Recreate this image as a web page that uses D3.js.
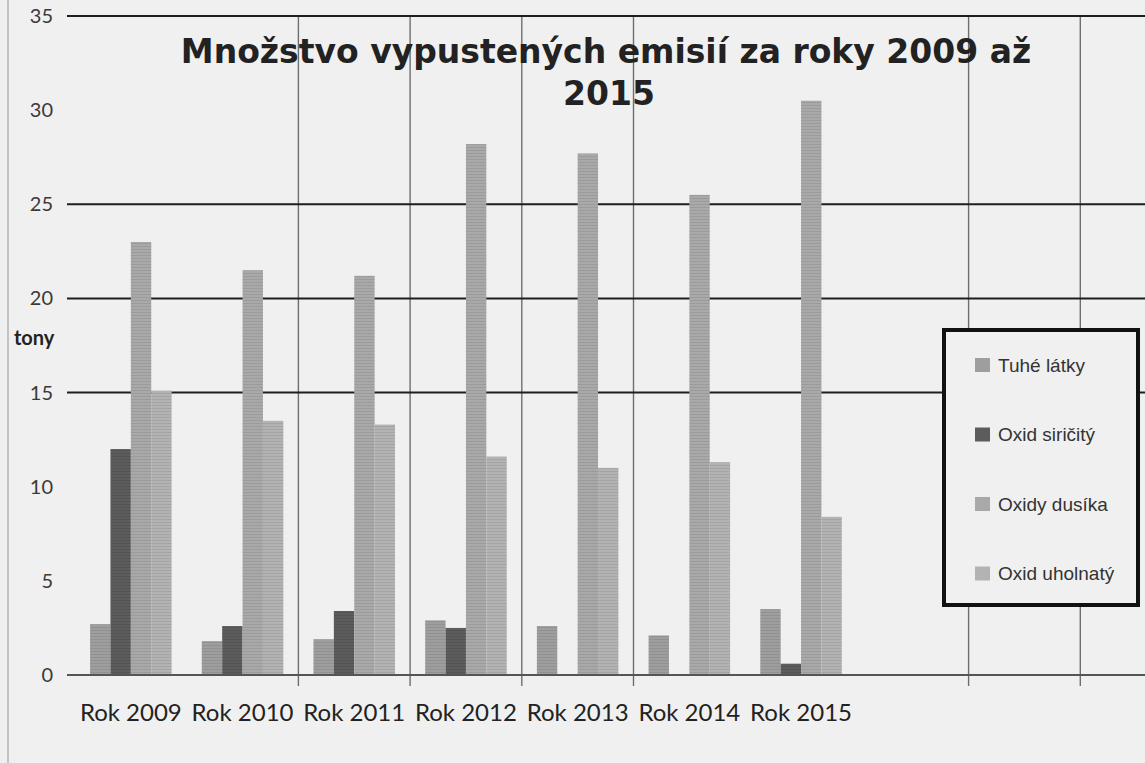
<!DOCTYPE html>
<html>
<head>
<meta charset="utf-8">
<script src="https://cdn.jsdelivr.net/npm/d3@7"></script>
<style>
  html, body { margin: 0; padding: 0; background: #f0f0f0; }
  svg { display: block; }
</style>
</head>
<body>
<div id="chart"></div>
<script>
// categories and series
const categories = ['Rok 2009', 'Rok 2010', 'Rok 2011', 'Rok 2012', 'Rok 2013', 'Rok 2014', 'Rok 2015'];
const seriesNames = ['Tuhé látky', 'Oxid siričitý', 'Oxidy dusíka', 'Oxid uholnatý'];

// values in tons
const tuheLatky = [2.7, 1.8, 1.9, 2.9, 2.6, 2.1, 3.5];
const oxidSiricity = [12.0, 2.6, 3.4, 2.5, 0, 0, 0.6];
const oxidyDusika = [23.0, 21.5, 21.2, 28.2, 27.7, 25.5, 30.5];
const oxidUholnaty = [15.1, 13.5, 13.3, 11.6, 11.0, 11.3, 8.4];

const yTicks = [0, 5, 10, 15, 20, 25, 30, 35];
const gridValues = [15, 20, 25, 35];   // only these lines survive in the scan
const vGridAt = [2, 3, 4, 5, 8, 9];    // category boundaries that carry a line

const seriesValues = [tuheLatky, oxidSiricity, oxidyDusika, oxidUholnaty];
const colors = ['#9e9e9e', '#5c5c5c', '#a9a9a9', '#b3b3b3'];

const width = 1145;
const height = 763;
const margin = { top: 16, right: 0, bottom: 88, left: 75 };
const baseY = height - margin.bottom;

const svg = d3.select('#chart')
    .append('svg')
    .attr('width', width)
    .attr('height', height);

svg.append('rect')
    .attr('width', width)
    .attr('height', height)
    .attr('fill', '#f0f0f0');

// striped fills, like the scanned bars
const defs = svg.append('defs');
colors.forEach((c, i) => {
    const p = defs.append('pattern')
        .attr('id', 'fill' + i)
        .attr('patternUnits', 'userSpaceOnUse')
        .attr('width', 6)
        .attr('height', 3);
    p.append('rect').attr('width', 6).attr('height', 3).attr('fill', c);
    p.append('rect').attr('width', 6).attr('height', 1)
        .attr('fill', d3.color(c).darker(0.25));
});

const x0 = d3.scaleBand()
    .domain(categories)
    .range([margin.left, margin.left + 7 * 111.7])
    .paddingInner(0.27)
    .paddingOuter(0.135);

const x1 = d3.scaleBand()
    .domain(seriesNames)
    .range([0, x0.bandwidth()]);

const y = d3.scaleLinear()
    .domain([0, 35])
    .range([baseY, margin.top]);

// left border of the chart
svg.append('line')
    .attr('x1', 8).attr('x2', 8)
    .attr('y1', 0).attr('y2', height)
    .attr('stroke', '#b5b5b5')
    .attr('stroke-width', 1.5);

// vertical gridlines + ticks under the axis
const start = x0.range()[0];
svg.append('g')
    .selectAll('line')
    .data(vGridAt)
    .join('line')
    .attr('x1', k => start + k * x0.step())
    .attr('x2', k => start + k * x0.step())
    .attr('y1', y(35))
    .attr('y2', baseY + 11)
    .attr('stroke', '#6e6e6e')
    .attr('stroke-width', 1.4);

// horizontal gridlines
svg.append('g')
    .selectAll('line')
    .data(gridValues)
    .join('line')
    .attr('x1', 67)
    .attr('x2', width)
    .attr('y1', d => y(d))
    .attr('y2', d => y(d))
    .attr('stroke', '#1e1e1e')
    .attr('stroke-width', 2);

// bars
const groups = svg.append('g')
    .selectAll('g')
    .data(categories)
    .join('g')
    .attr('transform', d => `translate(${x0(d)},0)`);

groups.selectAll('rect')
    .data((d, ci) => seriesNames.map((s, si) => ({ s, si, v: seriesValues[si][ci] })))
    .join('rect')
    .attr('x', d => x1(d.s))
    .attr('y', d => y(d.v))
    .attr('width', x1.bandwidth())
    .attr('height', d => baseY - y(d.v))
    .attr('fill', d => `url(#fill${d.si})`);

// baseline
svg.append('line')
    .attr('x1', 67)
    .attr('x2', width)
    .attr('y1', baseY)
    .attr('y2', baseY)
    .attr('stroke', '#555')
    .attr('stroke-width', 2);

// y tick labels
svg.append('g')
    .selectAll('text')
    .data(yTicks)
    .join('text')
    .attr('x', 53)
    .attr('y', d => y(d))
    .attr('dy', '0.35em')
    .attr('text-anchor', 'end')
    .attr('font-family', 'Lato, sans-serif')
    .attr('font-size', '20px')
    .attr('fill', '#3a3a3a')
    .text(d => d);

svg.append('text')
    .attr('x', 14)
    .attr('y', 345)
    .attr('font-family', 'Lato, sans-serif')
    .attr('font-weight', 'bold')
    .attr('font-size', '20px')
    .attr('fill', '#222')
    .text('tony');

// category labels
svg.append('g')
    .selectAll('text')
    .data(categories)
    .join('text')
    .attr('x', d => x0(d) + x0.bandwidth() / 2)
    .attr('y', 721)
    .attr('text-anchor', 'middle')
    .attr('font-family', 'Lato, sans-serif')
    .attr('font-size', '24px')
    .attr('fill', '#222')
    .text(d => d);

// title
const title = svg.append('text')
    .attr('text-anchor', 'middle')
    .attr('font-family', "Verdana, 'DejaVu Sans', sans-serif")
    .attr('font-weight', 'bold')
    .attr('font-size', '33px')
    .attr('fill', '#222');
title.append('tspan').attr('x', 606).attr('y', 63).text('Množstvo vypustených emisií za roky 2009 až');
title.append('tspan').attr('x', 609).attr('y', 105).text('2015');

// legend
const legend = svg.append('g').attr('transform', 'translate(942,330)');
legend.append('rect')
    .attr('x', 2).attr('y', 0)
    .attr('width', 194)
    .attr('height', 275)
    .attr('fill', '#f0f0f0')
    .attr('stroke', '#111')
    .attr('stroke-width', 4);

const item = legend.selectAll('g.item')
    .data(seriesNames)
    .join('g')
    .attr('class', 'item')
    .attr('transform', (d, i) => `translate(0,${35 + i * 69.5})`);

item.append('rect')
    .attr('x', 33).attr('y', -7)
    .attr('width', 15).attr('height', 14)
    .attr('fill', (d, i) => colors[i]);

item.append('text')
    .attr('x', 56)
    .attr('dy', '0.35em')
    .attr('font-family', "'Liberation Sans Narrow', 'Arial Narrow', sans-serif")
    .attr('font-size', '19px')
    .attr('fill', '#333')
    .text(d => d);
</script>
</body>
</html>
